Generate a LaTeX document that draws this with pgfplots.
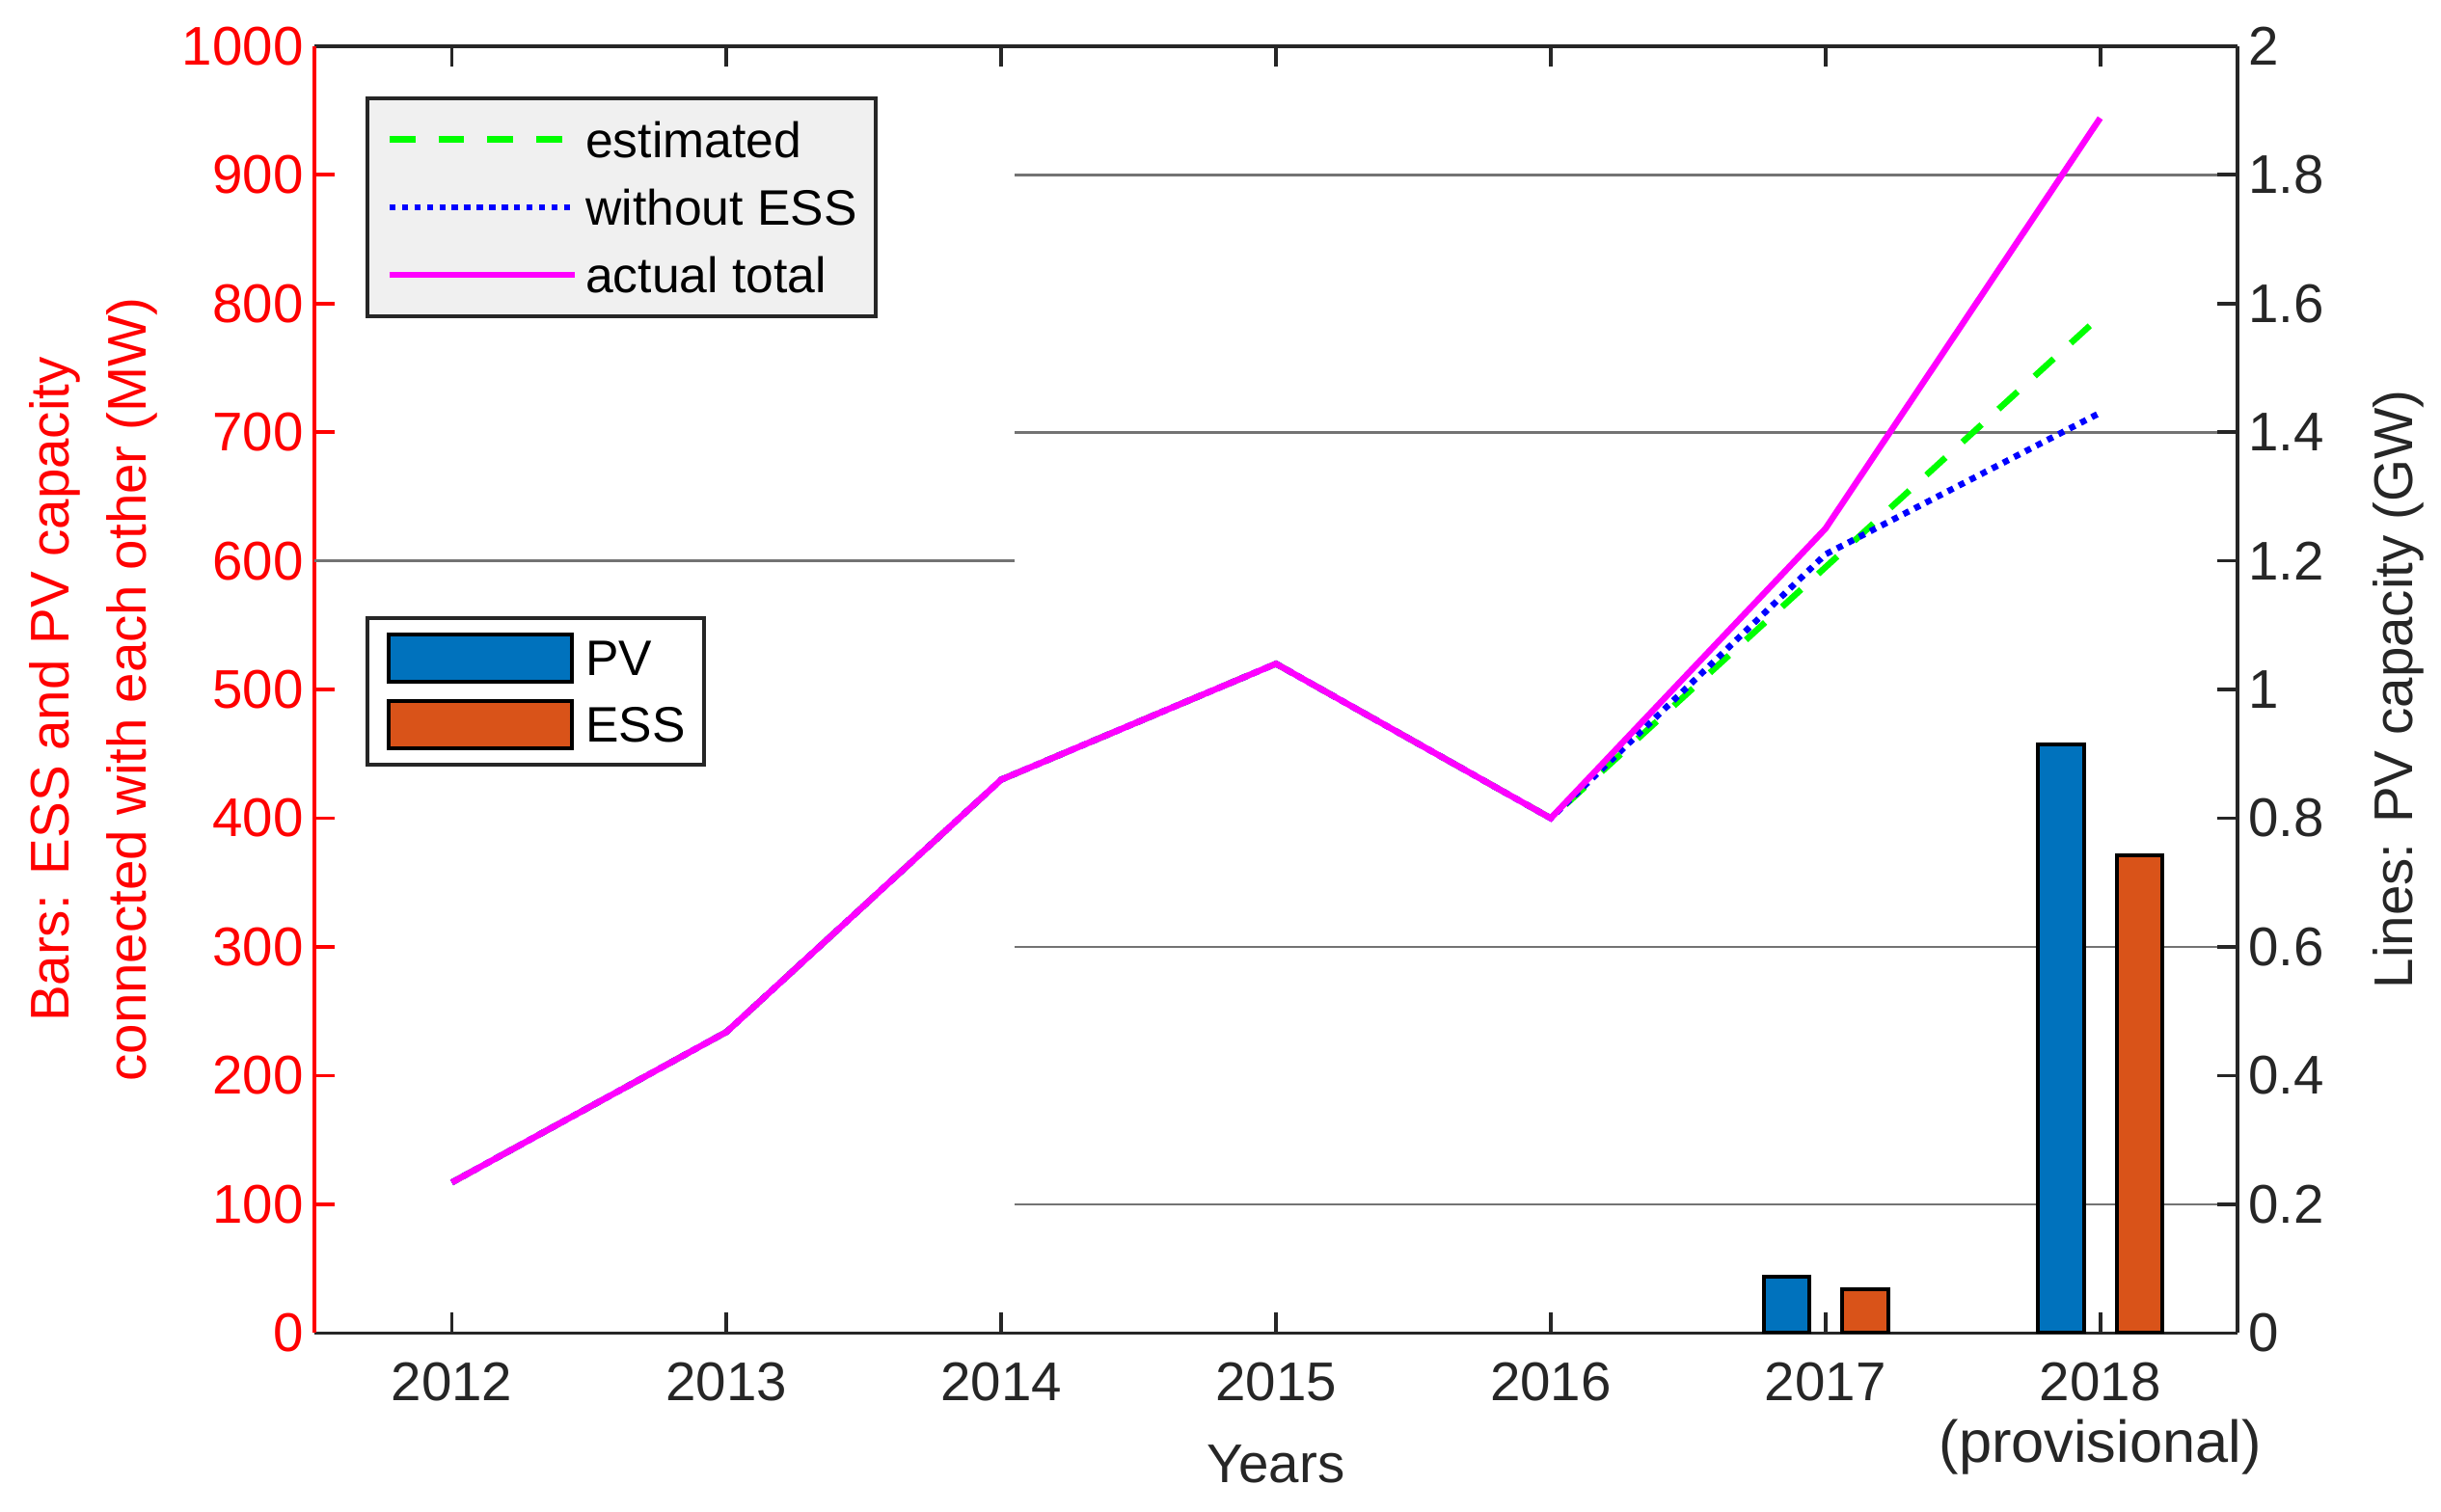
\documentclass[border=0pt]{standalone}
\usepackage{fontspec}
\setmainfont{Liberation Sans}
\usepackage{pgfplots}
\pgfplotsset{compat=1.18}
\definecolor{pvblue}{RGB}{0,114,189}
\definecolor{essorange}{RGB}{217,83,25}
\definecolor{axgray}{RGB}{38,38,38}
\definecolor{legfill}{RGB}{240,240,240}
\definecolor{gridgray}{RGB}{115,115,115}
\definecolor{lgreen}{RGB}{0,255,0}
\definecolor{lblue}{RGB}{0,0,255}
\definecolor{lmag}{RGB}{255,0,255}
\begin{document}
\begin{tikzpicture}
\pgfplotsset{
  common/.style={
    width=617.7pt, height=413.5pt, scale only axis,
    xmin=2011.5, xmax=2018.5,
    /pgf/number format/assume math mode=true,
    /pgf/number format/1000 sep={},
    tick align=inside,
    major tick length=6.5pt,
    tick label style={font=\fontsize{17.5}{18.5}\selectfont},
    legend cell align=left,
  }
}
\begin{axis}[common,
  axis x line*=box, axis y line*=left,
  ytick pos=left,
  x axis line style={axgray, line width=1.2pt, -},
  y axis line style={red, line width=1.2pt, -},
  xtick style={axgray, line width=1.2pt},
  ytick style={red, line width=1.2pt},
  ymin=0, ymax=1000,
  ytick={0,100,200,300,400,500,600,700,800,900,1000},
  yticklabel style={red},
  xtick={2012,2013,2014,2015,2016,2017,2018},
  xticklabels={2012,2013,2014,2015,2016,2017,{2018\\[1.5pt]{\fontsize{19}{19}\selectfont(provisional)}}},
  xticklabel style={axgray, align=center, yshift=-5.8pt},
  xlabel={Years},
  xlabel style={axgray, font=\fontsize{17.5}{21}\selectfont, at={(axis description cs:0.5,-0.1015)}, anchor=center},
  ylabel={Bars: ESS and PV capacity\\connected with each other (MW)},
  ylabel style={red, align=center, font=\fontsize{17.5}{25}\selectfont, at={(axis description cs:-0.1149,0.5)}, anchor=center, rotate=0},
  legend style={at={(axis description cs:0.0267,0.557)}, anchor=north west,
    draw=axgray, line width=1.24pt, fill=white,
    inner xsep=6pt, inner ysep=4.6pt, row sep=4.95pt, column sep=3.8pt,
    font=\fontsize{16}{18}\selectfont,
    nodes={inner sep=0pt, text height=11.4pt, text depth=0pt, text=black}},
]
\coordinate (bl) at (rel axis cs:0,0);
\coordinate (tr) at (rel axis cs:1,1);
% partial grid lines
\draw[gridgray, line width=0.9pt] (axis cs:2011.5,600) -- (axis cs:2014.05,600);
\draw[gridgray, line width=0.9pt] (axis cs:2014.05,100) -- (axis cs:2018.5,100);
\draw[gridgray, line width=0.9pt] (axis cs:2014.05,300) -- (axis cs:2018.5,300);
\draw[gridgray, line width=0.9pt] (axis cs:2014.05,700) -- (axis cs:2018.5,700);
\draw[gridgray, line width=0.9pt] (axis cs:2014.05,900) -- (axis cs:2018.5,900);
\addplot[ybar, bar width=14.75pt, bar shift=-12.5pt, fill=pvblue, draw=black, line width=1.24pt,
  legend image code/.code={\draw[fill=pvblue, draw=black, line width=1.24pt] (0pt,-7.6pt) rectangle (59pt,7.6pt);}]
  coordinates {(2017,44) (2018,457)};
\addlegendentry{PV}
\addplot[ybar, bar width=14.75pt, bar shift=12.7pt, fill=essorange, draw=black, line width=1.24pt,
  legend image code/.code={\draw[fill=essorange, draw=black, line width=1.24pt] (0pt,-7.6pt) rectangle (59pt,7.6pt);}]
  coordinates {(2017,34) (2018,371)};
\addlegendentry{ESS}
\end{axis}
\begin{axis}[common,
  axis x line=none, axis y line*=right,
  ytick pos=right, yticklabel pos=right,
  y axis line style={axgray, line width=1.2pt, -},
  ytick style={axgray, line width=1.2pt},
  ymin=0, ymax=2,
  ytick={0,0.2,0.4,0.6,0.8,1,1.2,1.4,1.6,1.8,2},
  yticklabel style={axgray, /pgf/number format/fixed},
  ylabel={Lines: PV capacity (GW)},
  ylabel style={axgray, font=\fontsize{17.5}{21}\selectfont, at={(axis description cs:1.0835,0.5)}, anchor=center, rotate=0},
  legend image code/.code={\draw[#1] (0pt,0pt) -- (59.5pt,0pt);},
  legend style={at={(axis description cs:0.0267,0.9607)}, anchor=north west,
    draw=axgray, line width=1.24pt, fill=legfill,
    inner xsep=6pt, inner ysep=7.5pt, row sep=10.35pt, column sep=2.5pt,
    font=\fontsize{16}{18}\selectfont,
    nodes={inner sep=0pt, text height=11.4pt, text depth=0pt, text=black}},
]
\addplot[lgreen, line width=2pt, dash pattern=on 8.3pt off 7.4pt]
  coordinates {(2012,0.234) (2013,0.468) (2014,0.86) (2015,1.04) (2016,0.80) (2017,1.19) (2018,1.58)};
\addlegendentry{estimated}
\addplot[lblue, line width=2pt, dash pattern=on 2pt off 2pt]
  coordinates {(2012,0.234) (2013,0.468) (2014,0.86) (2015,1.04) (2016,0.80) (2017,1.21) (2018,1.43)};
\addlegendentry{without ESS}
\addplot[lmag, line width=2pt]
  coordinates {(2012,0.234) (2013,0.468) (2014,0.86) (2015,1.04) (2016,0.80) (2017,1.25) (2018,1.888)};
\addlegendentry{actual total}
\end{axis}
\pgfresetboundingbox
\path[use as bounding box] ([xshift=-101pt,yshift=-57.2pt]bl) rectangle ([xshift=65.35pt,yshift=14.75pt]tr);
\end{tikzpicture}
\end{document}
